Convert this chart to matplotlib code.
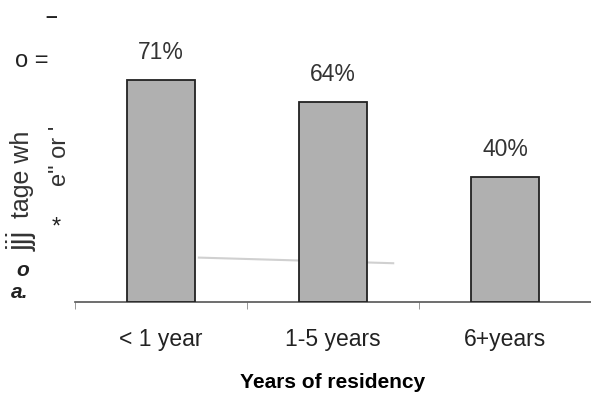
import matplotlib
matplotlib.use("Agg")
import matplotlib.pyplot as plt

categories = ["< 1 year", "1-5 years", "6+years"]
values = [71, 64, 40]
value_labels = ["71%", "64%", "40%"]
xlabel = "Years of residency"

plt.rcParams["font.family"] = ["Liberation Sans", "DejaVu Sans"]

W, H = 591, 395
fig = plt.figure(figsize=(W / 100, H / 100), dpi=100)
# axes: baseline at y=302 px, left end at x=75 px
ax = fig.add_axes([75 / W, (H - 302) / H, (W - 75) / W, 302 / H])
ax.set_xlim(-0.5, -0.5 + (W - 75) / 174)
ax.set_ylim(0, 302 / 3.127)

x = list(range(len(categories)))
ax.bar(x, values, width=0.40, color="#b0b0b0", edgecolor="#222222", linewidth=1.3, zorder=3)
for xi, v, lab in zip(x, values, value_labels):
    ax.text(xi, v + 5, lab, ha="center", va="bottom", fontsize=16.5, color="#333333")

for s in ["top", "right", "left"]:
    ax.spines[s].set_visible(False)
ax.spines["bottom"].set_color("#555555")
ax.spines["bottom"].set_linewidth(1.2)
ax.set_yticks([])
ax.set_xticks([-0.5, 0.5, 1.5, 2.5], minor=True)
ax.tick_params(axis="x", which="minor", length=5, color="#888888", direction="out")
ax.set_xticks(x)
ax.set_xticklabels(categories, fontsize=16.5, color="#222222")
ax.tick_params(axis="x", which="major", length=0, pad=19)
ax.set_xlabel(xlabel, fontsize=15, fontweight="bold", labelpad=15.5)

# faint streak across the plot area
ax.plot([0.22, 1.35], [14.2, 12.4], color="#d0d0d0", linewidth=1.5, zorder=2)

# fragmentary axis caption
def ftext(px, py, s, **kw):
    fig.text(px / W, 1 - py / H, s, **kw)

ftext(51, 17, "–", ha="center", va="center", fontsize=15, fontweight="bold", color="#222222")
ftext(15, 61, "o =", ha="left", va="center", fontsize=17, color="#222222")
ftext(22, 174, "tage wh", ha="center", va="center", rotation=90, fontsize=18, color="#333333")
ftext(22, 241, "jjj", ha="center", va="center", rotation=90, fontsize=22, color="#333333")
ftext(60, 156, "e\" or '", ha="center", va="center", rotation=90, fontsize=17, color="#333333")
ftext(56, 228, "*", ha="center", va="center", fontsize=17, color="#222222")
ftext(23, 270, "o", ha="center", va="center", fontsize=15, fontweight="bold", style="italic", color="#222222")
ftext(20, 292, "a.", ha="center", va="center", fontsize=15, fontweight="bold", style="italic", color="#222222")

fig.savefig("out.png", dpi=100)
